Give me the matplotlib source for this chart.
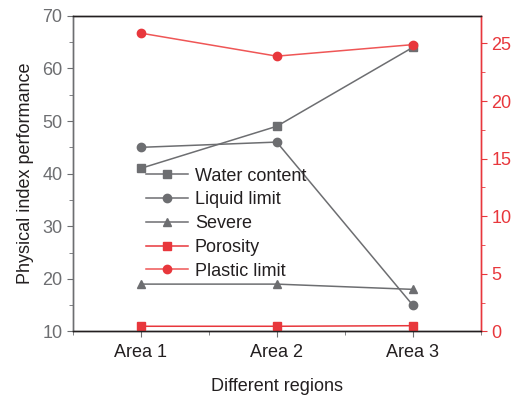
import matplotlib
matplotlib.use("Agg")
import matplotlib.pyplot as plt
from matplotlib.ticker import MultipleLocator

plt.rcParams["font.family"] = ["Liberation Sans", "DejaVu Sans"]

areas = ["Area 1", "Area 2", "Area 3"]
water_content = [41, 49, 64]
liquid_limit = [45, 46, 15]
severe = [19, 19, 18]
porosity = [0.45, 0.45, 0.5]        # right axis
plastic_limit = [25.9, 23.9, 24.9]  # right axis

GRAY = "#6d6e71"
RED = "#e8373c"
RED2 = "#ef5656"
TXT = "#231f20"

fig, ax = plt.subplots(figsize=(5.12, 3.96), dpi=100)
fig.subplots_adjust(left=0.142, right=0.939, top=0.96, bottom=0.163)
ax2 = ax.twinx()

x = [1, 2, 3]
h1, = ax.plot(x, water_content, color=GRAY, marker="s", ms=5.5, lw=1.1, label="Water content")
h2, = ax.plot(x, liquid_limit, color=GRAY, marker="o", ms=6, lw=1.1, label="Liquid limit")
h3, = ax.plot(x, severe, color=GRAY, marker="^", ms=6, lw=1.1, label="Severe")
h4, = ax2.plot(x, porosity, color=RED, marker="s", ms=5.5, lw=1.1, label="Porosity")
h5, = ax2.plot(x, plastic_limit, color=RED2, marker="o", ms=6, lw=1.1,
               mfc=RED, mec=RED, label="Plastic limit")

ax.set_xlim(0.5, 3.5)
ax.set_ylim(10, 70)
ax2.set_ylim(0, 27.4)
ax.set_xticks(x)
ax.set_xticklabels(areas)
ax.xaxis.set_minor_locator(MultipleLocator(0.5))
ax.yaxis.set_major_locator(MultipleLocator(10))
ax.yaxis.set_minor_locator(MultipleLocator(5))
ax2.yaxis.set_major_locator(MultipleLocator(5))
ax2.yaxis.set_minor_locator(MultipleLocator(2.5))

ax.set_xlabel("Different regions", fontsize=13, color=TXT, labelpad=12)
ax.set_ylabel("Physical index performance", fontsize=13, color=TXT, labelpad=6)

ax.tick_params(axis="x", labelsize=13, labelcolor=TXT, color=GRAY,
               length=4, direction="out", pad=5)
ax.tick_params(axis="x", which="minor", color=GRAY, length=3)
ax.tick_params(axis="y", labelsize=13, labelcolor=GRAY, color=GRAY,
               length=4, direction="out")
ax.tick_params(axis="y", which="minor", color=GRAY, length=3)
ax2.tick_params(axis="y", labelsize=13, labelcolor=RED, color=RED, length=4)
ax2.tick_params(axis="y", which="minor", color=RED, length=3)

for a in (ax, ax2):
    a.spines["top"].set_color(TXT)
    a.spines["bottom"].set_color(TXT)
    a.spines["left"].set_color(GRAY)
    a.spines["right"].set_color(RED)
    for s in a.spines.values():
        s.set_linewidth(1.0)

ax2.legend(handles=[h1, h2, h3, h4, h5], loc="upper left",
           bbox_to_anchor=(0.14, 0.57), frameon=False, fontsize=13,
           handlelength=2.3, handletextpad=0.4, labelspacing=0.37,
           labelcolor=TXT)

fig.savefig("out.png", dpi=100)
